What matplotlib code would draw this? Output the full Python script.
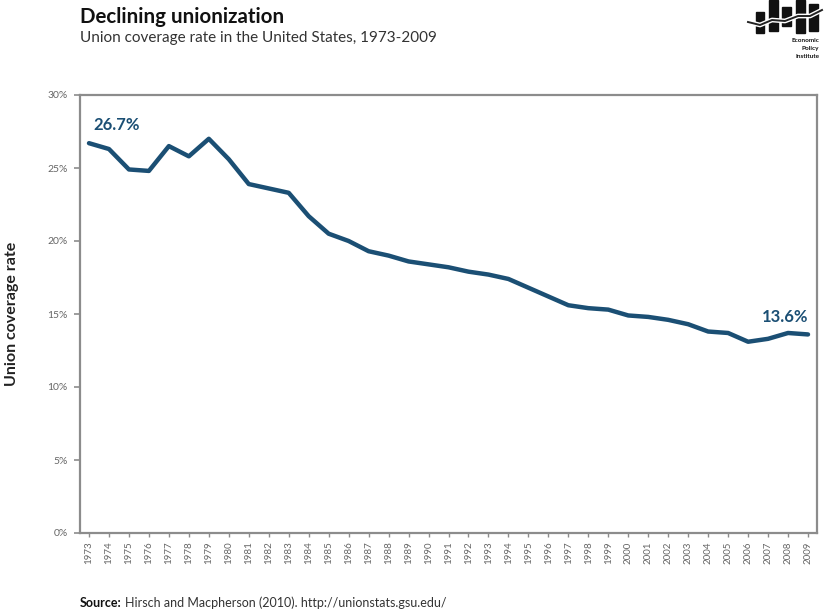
import numpy as np
import matplotlib.pyplot as plt
from matplotlib.patches import Rectangle

plt.rcParams['font.family'] = ['Lato', 'DejaVu Sans']

# Union coverage rate, percent
years = list(range(1973, 2010))
coverage = [26.7, 26.3, 24.9, 24.8, 26.5, 25.8, 27.0, 25.6, 23.9, 23.6,
            23.3, 21.7, 20.5, 20.0, 19.3, 19.0, 18.6, 18.4, 18.2, 17.9,
            17.7, 17.4, 16.8, 16.2, 15.6, 15.4, 15.3, 14.9, 14.8, 14.6,
            14.3, 13.8, 13.7, 13.1, 13.3, 13.7, 13.6]
y_ticks = [0, 5, 10, 15, 20, 25, 30]

line_color = '#1b4f74'
frame_color = '#8c8c8c'
text_gray = '#666666'

fig = plt.figure(figsize=(8.25, 6.12), dpi=100)
ax = fig.add_axes([80 / 825, 1 - 533 / 612, 737 / 825, 438 / 612])

ax.plot(years, coverage, color=line_color, lw=3.2, solid_joinstyle='round',
        solid_capstyle='round')

ax.set_ylim(0, 30)
ax.set_xlim(years[0] - 0.45, years[-1] + 0.45)
ax.set_yticks(y_ticks)
ax.set_yticklabels([f'{t}%' for t in y_ticks])
ax.set_xticks(years)
ax.set_xticklabels([str(y) for y in years], rotation=90)

for s in ax.spines.values():
    s.set_color(frame_color)
    s.set_linewidth(1.6)
ax.tick_params(axis='y', colors=frame_color, labelcolor=text_gray,
               labelsize=7.5, length=4, width=1.2, pad=5)
ax.tick_params(axis='x', colors=frame_color, labelcolor=text_gray,
               labelsize=7, length=3, width=1.0, pad=3)

ax.set_ylabel('Union coverage rate', fontsize=11.5, fontweight='bold',
              color='#222222', labelpad=20)

# end point labels
ax.annotate(f'{coverage[0]}%', (years[0], coverage[0]), xytext=(3, 7),
            textcoords='offset points', color=line_color, fontsize=12,
            fontweight='bold', ha='left', va='bottom')
ax.annotate(f'{coverage[-1]}%', (years[-1], coverage[-1]), xytext=(0, 7),
            textcoords='offset points', color=line_color, fontsize=12,
            fontweight='bold', ha='right', va='bottom')

# titles
fig.text(80 / 825, 1 - 17 / 612, 'Declining unionization', fontsize=14.8,
         fontweight='bold', color='#111111', va='center')
fig.text(80 / 825, 1 - 38 / 612,
         'Union coverage rate in the United States, 1973-2009',
         fontsize=11, color='#333333', va='center')

# source line: bold lead-in, then the rest placed right after it
src = fig.text(80 / 825, 1 - 603 / 612, 'Source:', fontsize=9,
               fontweight='bold', color='#111111', va='center')
fig.add_artist(plt.Annotation(
    'Hirsch and Macpherson (2010). http://unionstats.gsu.edu/',
    xy=(1, 0), xycoords=src, xytext=(2.5, 0), textcoords='offset points',
    fontsize=9, color='#333333', va='bottom', ha='left',
    annotation_clip=False))

# EPI logo
lg = fig.add_axes([740 / 825, 1 - 62 / 612, 85 / 825, 62 / 612])
lg.set_xlim(740, 825)
lg.set_ylim(62, 0)
lg.axis('off')
for x0, w, y0, y1 in [(756, 8, 12, 33), (769, 9, 0, 31), (782, 9, 7, 26),
                      (796, 9, 0, 33), (809, 9, 4, 31)]:
    lg.add_patch(Rectangle((x0, y0), w, y1 - y0, color='#111111'))
wx = np.array([748, 760, 772, 785, 798, 810, 822])
wy = np.array([22, 25, 20, 21, 16, 16, 10])
lg.plot(wx, wy, color='white', lw=3.4)
lg.plot(wx, wy, color='#222222', lw=1.4)
for i, word in enumerate(['Economic', 'Policy', 'Institute']):
    lg.text(819, 41 + i * 7.5, word, fontsize=4.6, fontweight='bold',
            ha='right', va='center', color='#111111')

fig.savefig('out.png', dpi=100)
